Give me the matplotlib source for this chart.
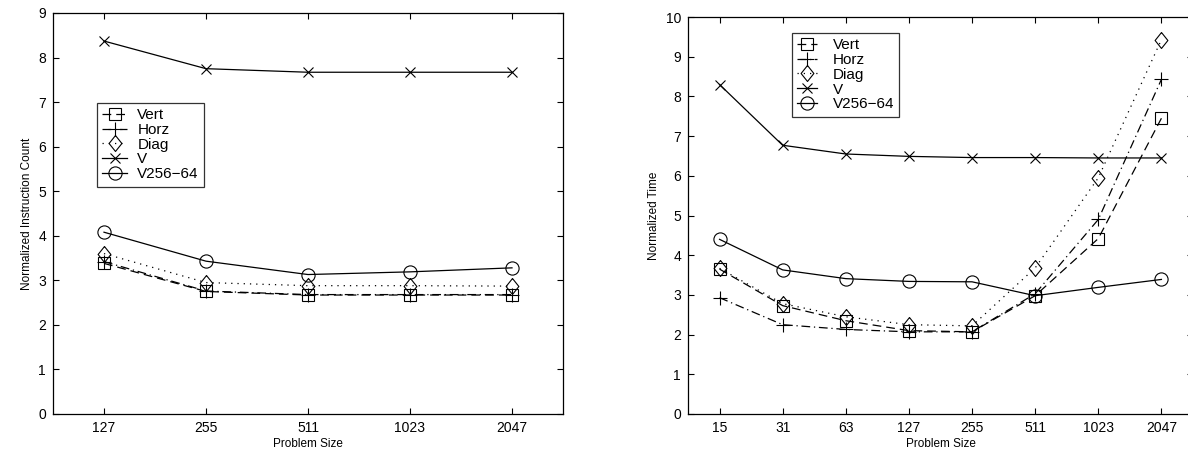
import matplotlib
matplotlib.use("Agg")
import matplotlib.pyplot as plt

plt.rcParams['font.family'] = ['Liberation Sans', 'DejaVu Sans']
plt.rcParams['font.size'] = 8.5

# Left panel: instruction count
sizes_left = ["127", "255", "511", "1023", "2047"]
left_vert = [3.38, 2.75, 2.67, 2.67, 2.67]
left_horz = [3.42, 2.76, 2.68, 2.68, 2.68]
left_diag = [3.60, 2.95, 2.88, 2.88, 2.87]
left_v = [8.37, 7.75, 7.67, 7.67, 7.67]
left_v256 = [4.08, 3.43, 3.13, 3.19, 3.28]

# Right panel: time
sizes_right = ["15", "31", "63", "127", "255", "511", "1023", "2047"]
right_vert = [3.65, 2.73, 2.35, 2.10, 2.07, 2.98, 4.42, 7.45]
right_horz = [2.93, 2.25, 2.13, 2.07, 2.07, 3.03, 4.90, 8.43]
right_diag = [3.67, 2.78, 2.45, 2.25, 2.22, 3.68, 5.95, 9.43]
right_v = [8.30, 6.77, 6.55, 6.49, 6.46, 6.46, 6.45, 6.45]
right_v256 = [4.40, 3.63, 3.41, 3.34, 3.33, 2.98, 3.19, 3.39]

diamond = [(0, 1), (0.8, 0), (0, -1), (-0.8, 0), (0, 1)]

# name, marker, marker size, line style
styles = [
    ("Vert", "s", 8, (0, (7, 4))),
    ("Horz", "+", 9.5, (0, (7, 3, 1, 3))),
    ("Diag", diamond, 11.5, (0, (1, 4))),
    ("V", "x", 7, "-"),
    ("V256\u221264", "o", 9.5, "-"),
]


def draw(ax, labels, series, ymax, ylabel, legend_anchor, hlen, hpad):
    xs = list(range(len(labels)))
    for (name, marker, ms, ls), ys in zip(styles, series):
        ax.plot(xs, ys, color="black", linestyle=ls, linewidth=0.9,
                marker=marker, markersize=ms, markerfacecolor="none",
                markeredgecolor="black", markeredgewidth=0.8, label=name)
    ax.set_xlim(-0.5, len(labels) - 0.5)
    ax.set_ylim(0, ymax)
    ax.set_xticks(xs)
    ax.set_xticklabels(labels)
    ax.set_yticks(range(ymax + 1))
    ax.set_xlabel("Problem Size", labelpad=2)
    ax.set_ylabel(ylabel)
    ax.tick_params(direction="in", length=4, width=0.8, top=True, right=True,
                   labelsize=10, pad=5)
    for sp in ax.spines.values():
        sp.set_linewidth(0.9)
    leg = ax.legend(loc="upper left", bbox_to_anchor=legend_anchor,
                    frameon=True, fancybox=False, edgecolor="black",
                    handlelength=hlen, borderpad=0.35, labelspacing=0.05,
                    handletextpad=hpad, borderaxespad=0, fontsize=11)
    leg.get_frame().set_linewidth(0.9)


fig = plt.figure(figsize=(11.88, 4.67), dpi=100)
ax1 = fig.add_axes([0.0446, 0.1135, 0.4293, 0.8587])
ax2 = fig.add_axes([0.5791, 0.1135, 0.4251, 0.8500])

draw(ax1, sizes_left, [left_vert, left_horz, left_diag, left_v, left_v256],
     9, "Normalized Instruction Count", (0.086, 0.776), 1.65, 0.65)
draw(ax2, sizes_right, [right_vert, right_horz, right_diag, right_v, right_v256],
     10, "Normalized Time", (0.206, 0.960), 1.3, 1.0)

fig.savefig("out.png", dpi=100)
